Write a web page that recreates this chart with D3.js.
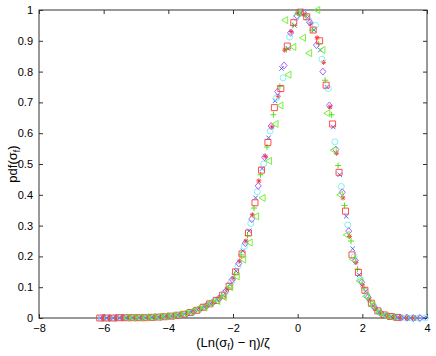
<!DOCTYPE html>
<html lang="en">
<head>
<meta charset="utf-8">
<title>pdf of ln sigma</title>
<script src="https://cdn.jsdelivr.net/npm/d3@7"></script>
<style>
  body { margin: 0; background: #fff; }
  svg { display: block; font-family: "Liberation Sans", Arial, Helvetica, sans-serif; }
  .axis text { font-size: 11px; fill: #000; }
  .axis line { stroke: #333; }
</style>
</head>
<body>
<svg id="chart" width="436" height="356"></svg>
<script>
// ticks
var xTicks = [-8, -6, -4, -2, 0, 2, 4];
var yTicks = [0, 0.1, 0.2, 0.3, 0.4, 0.5, 0.6, 0.7, 0.8, 0.9, 1];

// each series is [x, pdf]
var blueX = [[-6.1,0],[-5.9,0],[-5.7,0],[-5.5,0.001],[-5.3,0.001],[-5.1,0.001],[-4.9,0.001],[-4.7,0.001],[-4.5,0.002],[-4.3,0.003],[-4.1,0.004],[-3.9,0.006],[-3.7,0.009],[-3.5,0.012],[-3.3,0.019],[-3.1,0.027],[-2.9,0.037],[-2.7,0.046],[-2.5,0.060],[-2.3,0.074],[-2.1,0.109],[-1.9,0.152],[-1.7,0.218],[-1.5,0.283],[-1.3,0.39],[-1.1,0.485],[-0.9,0.585],[-0.7,0.705],[-0.5,0.81],[-0.3,0.875],[-0.1,0.95],[0.1,0.99],[0.3,0.975],[0.5,0.935],[0.7,0.87],[0.9,0.75],[1.1,0.62],[1.3,0.465],[1.5,0.33],[1.7,0.225],[1.9,0.14],[2.1,0.087],[2.3,0.044],[2.5,0.02],[2.7,0.009],[2.9,0.004],[3.1,0.002],[3.3,0.001],[3.5,0],[3.7,0],[3.9,0]];
var redStar = [[-6.0,0],[-5.8,0],[-5.6,0],[-5.4,0.001],[-5.2,0.001],[-5.0,0.001],[-4.8,0.001],[-4.6,0.002],[-4.4,0.003],[-4.2,0.004],[-4.0,0.005],[-3.8,0.007],[-3.6,0.010],[-3.4,0.016],[-3.2,0.022],[-3.0,0.030],[-2.8,0.042],[-2.6,0.051],[-2.4,0.067],[-2.2,0.092],[-2.0,0.128],[-1.8,0.185],[-1.6,0.25],[-1.4,0.335],[-1.2,0.445],[-1.0,0.525],[-0.8,0.62],[-0.6,0.72],[-0.4,0.87],[-0.2,0.93],[0.0,0.99],[0.2,0.985],[0.4,0.955],[0.6,0.91],[0.8,0.83],[1.0,0.685],[1.2,0.535],[1.4,0.39],[1.6,0.265],[1.8,0.18],[2.0,0.108],[2.2,0.062],[2.4,0.03],[2.6,0.013],[2.8,0.006],[3.0,0.003],[3.2,0.001],[3.4,0],[3.6,0]];
var greenPlus = [[-5.95,0],[-5.75,0],[-5.55,0.001],[-5.35,0.001],[-5.15,0.001],[-4.95,0.001],[-4.75,0.001],[-4.55,0.002],[-4.35,0.003],[-4.15,0.004],[-3.95,0.006],[-3.75,0.008],[-3.55,0.011],[-3.35,0.017],[-3.15,0.024],[-2.95,0.034],[-2.75,0.044],[-2.55,0.055],[-2.35,0.071],[-2.15,0.098],[-1.95,0.142],[-1.75,0.205],[-1.55,0.268],[-1.35,0.357],[-1.15,0.465],[-0.95,0.555],[-0.75,0.66],[-0.55,0.752],[-0.35,0.872],[-0.15,0.95],[0.05,0.99],[0.25,0.983],[0.45,0.935],[0.65,0.89],[0.85,0.772],[1.05,0.66],[1.25,0.495],[1.45,0.365],[1.65,0.25],[1.85,0.159],[2.05,0.097],[2.25,0.053],[2.45,0.026],[2.65,0.011],[2.85,0.005],[3.05,0.002],[3.25,0.001],[3.45,0],[3.65,0]];
var cyanCircle = [[-6.05,0],[-5.85,0],[-5.65,0],[-5.45,0.001],[-5.25,0.001],[-5.05,0.001],[-4.85,0.001],[-4.65,0.002],[-4.45,0.002],[-4.25,0.003],[-4.05,0.005],[-3.85,0.006],[-3.65,0.009],[-3.45,0.013],[-3.25,0.020],[-3.05,0.028],[-2.85,0.038],[-2.65,0.05],[-2.45,0.062],[-2.25,0.083],[-2.05,0.118],[-1.85,0.168],[-1.65,0.232],[-1.45,0.307],[-1.25,0.41],[-1.05,0.50],[-0.85,0.607],[-0.65,0.715],[-0.45,0.78],[-0.25,0.912],[-0.05,0.975],[0.15,0.993],[0.35,0.965],[0.55,0.95],[0.75,0.84],[0.95,0.745],[1.15,0.572],[1.35,0.427],[1.55,0.302],[1.75,0.199],[1.95,0.125],[2.15,0.073],[2.35,0.038],[2.55,0.017],[2.75,0.008],[2.95,0.004],[3.15,0.002],[3.35,0.001],[3.55,0],[3.75,0],[3.95,0]];
var purpleDiamond = [[-6.02,0],[-5.82,0],[-5.62,0],[-5.42,0.001],[-5.22,0.001],[-5.02,0.001],[-4.82,0.001],[-4.62,0.002],[-4.42,0.002],[-4.22,0.004],[-4.02,0.005],[-3.82,0.007],[-3.62,0.010],[-3.42,0.014],[-3.22,0.021],[-3.02,0.030],[-2.82,0.040],[-2.62,0.051],[-2.42,0.064],[-2.22,0.087],[-2.02,0.125],[-1.82,0.177],[-1.62,0.243],[-1.42,0.321],[-1.22,0.429],[-1.02,0.522],[-0.82,0.623],[-0.62,0.735],[-0.42,0.82],[-0.22,0.926],[-0.02,0.981],[0.18,0.992],[0.38,0.959],[0.58,0.886],[0.78,0.80],[0.98,0.69],[1.18,0.547],[1.38,0.408],[1.58,0.282],[1.78,0.186],[1.98,0.116],[2.18,0.067],[2.38,0.034],[2.58,0.015],[2.78,0.007],[2.98,0.003],[3.18,0.001],[3.38,0.001],[3.58,0],[3.78,0]];
var redSquare = [[-6.12,0],[-5.92,0],[-5.72,0],[-5.52,0.001],[-5.32,0.001],[-5.12,0.001],[-4.92,0.001],[-4.72,0.001],[-4.52,0.002],[-4.32,0.003],[-4.12,0.004],[-3.92,0.006],[-3.72,0.009],[-3.52,0.012],[-3.32,0.018],[-3.12,0.025],[-2.92,0.035],[-2.72,0.046],[-2.52,0.057],[-2.32,0.074],[-2.12,0.103],[-1.92,0.15],[-1.72,0.208],[-1.52,0.276],[-1.32,0.374],[-1.12,0.48],[-0.92,0.57],[-0.72,0.683],[-0.52,0.745],[-0.32,0.883],[-0.12,0.959],[0.08,0.993],[0.28,0.978],[0.48,0.935],[0.68,0.9],[0.88,0.756],[1.08,0.63],[1.28,0.473],[1.48,0.347],[1.68,0.205],[1.88,0.148],[2.08,0.090],[2.28,0.048],[2.48,0.023],[2.68,0.010],[2.88,0.005],[3.08,0.002]];
var greenTri = [[-5.3,0.001],[-5.1,0.001],[-4.9,0.002],[-4.7,0.002],[-4.5,0.003],[-4.3,0.004],[-4.1,0.006],[-3.9,0.008],[-3.7,0.011],[-3.5,0.016],[-3.3,0.02],[-3.1,0.03],[-2.9,0.034],[-2.7,0.048],[-2.5,0.055],[-2.3,0.068],[-2.1,0.1],[-1.9,0.135],[-1.7,0.19],[-1.5,0.245],[-1.3,0.33],[-1.1,0.39],[-0.9,0.51],[-0.7,0.63],[-0.55,0.69],[-0.4,0.967],[-0.3,0.79],[-0.15,0.88],[0.0,0.99],[0.15,0.91],[0.34,0.86],[0.59,1.0],[0.75,0.87],[0.9,0.665],[1.1,0.545],[1.3,0.40],[1.5,0.27],[1.7,0.19],[1.9,0.12],[2.1,0.07],[2.3,0.04],[2.5,0.017],[2.7,0.008],[2.9,0.003]];

var series = [
  { data: blueX, color: "#3a5cff", marker: "x" },
  { data: redStar, color: "#ff2a2a", marker: "star" },
  { data: greenPlus, color: "#44dd11", marker: "plus" },
  { data: cyanCircle, color: "#6ff0f0", marker: "circle" },
  { data: purpleDiamond, color: "#a64dff", marker: "diamond" },
  { data: redSquare, color: "#ff3b3b", marker: "square" },
  { data: greenTri, color: "#66ee22", marker: "tri" }
];

var markerPaths = {
  x: "M-2.2,-2.2L2.2,2.2M-2.2,2.2L2.2,-2.2",
  star: "M-2.5,0H2.5M0,-2.5V2.5M-1.8,-1.8L1.8,1.8M-1.8,1.8L1.8,-1.8",
  plus: "M-3,0H3M0,-3V3",
  circle: "M3,0A3,3 0 1,1 -3,0A3,3 0 1,1 3,0Z",
  diamond: "M0,-3.5L3,0L0,3.5L-3,0Z",
  square: "M-3,-3H3V3H-3Z",
  tri: "M-3,0L3,-3.5L3,3.5Z"
};

var margin = { left: 39, right: 9, top: 10, bottom: 38 };
var W = 436, H = 356;
var w = W - margin.left - margin.right;
var h = H - margin.top - margin.bottom;

var svg = d3.select("#chart");
svg.append("rect").attr("width", W).attr("height", H).attr("fill", "#fff");

var g = svg.append("g").attr("transform", "translate(" + margin.left + "," + margin.top + ")");

var x = d3.scaleLinear().domain([-8, 4]).range([0, w]);
var y = d3.scaleLinear().domain([0, 1]).range([h, 0]);

var fmt = function(d) { return d3.format("")(d); };

// axes, ticks pointing in like matlab
g.append("g").attr("class", "axis").attr("transform", "translate(0," + h + ")")
  .call(d3.axisBottom(x).tickValues(xTicks).tickSizeInner(-4).tickSizeOuter(0).tickPadding(6).tickFormat(fmt))
  .call(function(s) { s.select(".domain").remove(); });
g.append("g").attr("class", "axis")
  .call(d3.axisTop(x).tickValues(xTicks).tickSizeInner(-4).tickSizeOuter(0).tickFormat(""))
  .call(function(s) { s.select(".domain").remove(); });
g.append("g").attr("class", "axis")
  .call(d3.axisLeft(y).tickValues(yTicks).tickSizeInner(-4).tickSizeOuter(0).tickPadding(6).tickFormat(fmt))
  .call(function(s) { s.select(".domain").remove(); });
g.append("g").attr("class", "axis").attr("transform", "translate(" + w + ",0)")
  .call(d3.axisRight(y).tickValues(yTicks).tickSizeInner(-4).tickSizeOuter(0).tickFormat(""))
  .call(function(s) { s.select(".domain").remove(); });

g.selectAll(".axis text").attr("font-family", null);

g.append("rect")
  .attr("width", w).attr("height", h)
  .attr("fill", "none").attr("stroke", "#333").attr("stroke-width", 1);

// markers
series.forEach(function(s) {
  g.append("g").selectAll("path")
    .data(s.data)
    .enter()
    .append("path")
    .attr("transform", function(d) { return "translate(" + x(d[0]) + "," + y(d[1]) + ")"; })
    .attr("d", markerPaths[s.marker])
    .attr("fill", "none")
    .attr("stroke", s.color)
    .attr("stroke-width", 0.9);
});

// labels
var xl = svg.append("text")
  .attr("x", margin.left + w / 2).attr("y", 347)
  .attr("text-anchor", "middle").attr("font-size", 13);
xl.append("tspan").text("(Ln(σ");
xl.append("tspan").attr("dy", 3).attr("font-size", 9).text("f");
xl.append("tspan").attr("dy", -3).text(") − η)/ζ");

var yl = svg.append("text")
  .attr("transform", "translate(17," + (margin.top + h / 2) + ") rotate(-90)")
  .attr("text-anchor", "middle").attr("font-size", 13);
yl.append("tspan").text("pdf(σ");
yl.append("tspan").attr("dy", 3).attr("font-size", 9).text("f");
yl.append("tspan").attr("dy", -3).text(")");
</script>
</body>
</html>
